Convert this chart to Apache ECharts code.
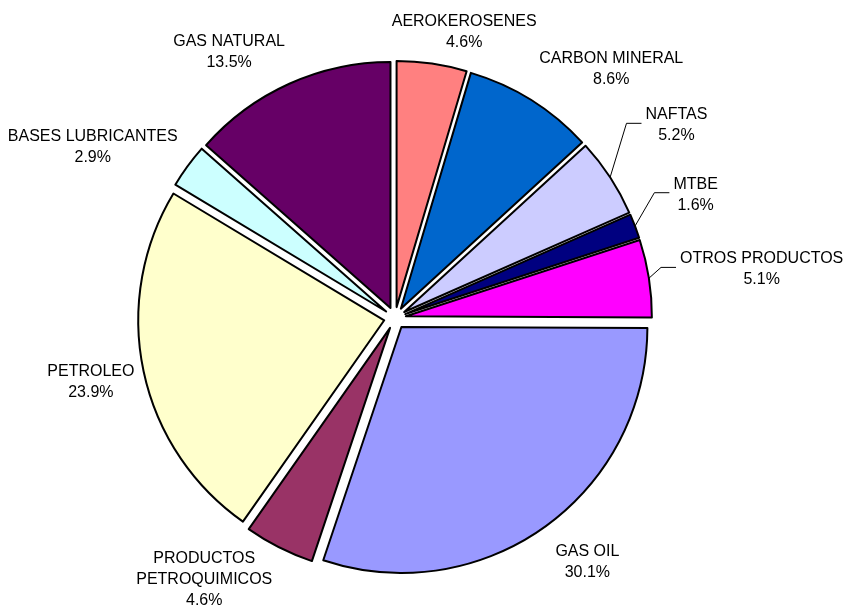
<!DOCTYPE html>
<html>
<head>
<meta charset="utf-8">
<title>Productos</title>
<script src="https://cdn.jsdelivr.net/npm/echarts@6/dist/echarts.min.js"></script>
<style>
  html, body { margin: 0; padding: 0; background: #fff; }
  #main { width: 845px; height: 608px; }
</style>
</head>
<body>
<div id="main"></div>
<script>
// data, clockwise from 12 o'clock
var names = ['AEROKEROSENES', 'CARBON MINERAL', 'NAFTAS', 'MTBE', 'OTROS PRODUCTOS',
  'GAS OIL', 'PRODUCTOS PETROQUIMICOS', 'PETROLEO', 'BASES LUBRICANTES', 'GAS NATURAL']
var shares = [4.6, 8.6, 5.2, 1.6, 5.1, 30.1, 4.6, 23.9, 2.9, 13.5]
var colors = ['#FF8080', '#0066CC', '#CCCCFF', '#000080', '#FF00FF',
  '#9999FF', '#993366', '#FFFFCC', '#CCFFFF', '#660066']

// pie geometry
var CX = 395
var CY = 318
var R = 246
var EXPLODE = 11
var LABEL_GAP = 12

// labels that get a leader line
var leaders = ['NAFTAS', 'MTBE', 'OTROS PRODUCTOS']
// small per label nudges on top of the radial placement (px)
var labelNudge = {
  'AEROKEROSENES': [26, 11],
  'CARBON MINERAL': [44, 27],
  'NAFTAS': [25, -25],
  'MTBE': [23, -17],
  'OTROS PRODUCTOS': [18, 6],
  'GAS OIL': [15, -4],
  'PRODUCTOS PETROQUIMICOS': [-43, -31],
  'PETROLEO': [5, -1],
  'BASES LUBRICANTES': [-20, 36],
  'GAS NATURAL': [-38, 18]
}

var total = shares.reduce(function (a, b) { return a + b }, 0)

function midAngle(i) {
  var before = 0
  for (var k = 0; k < i; k++) before += shares[k]
  return (before + shares[i] / 2) / total * Math.PI * 2
}

var chart = echarts.init(document.getElementById('main'))

var sliceData = names.map(function (n, i) {
  return {
    name: n,
    value: shares[i],
    selected: true,
    itemStyle: { color: colors[i] }
  }
})

var labelData = names.map(function (n, i) {
  return {
    name: n,
    value: shares[i],
    labelLine: { show: leaders.indexOf(n) >= 0 }
  }
})

chart.setOption({
  backgroundColor: '#fff',
  animation: false,
  series: [
    {
      type: 'pie',
      center: [CX, CY],
      radius: R,
      startAngle: 90,
      clockwise: true,
      selectedMode: 'multiple',
      selectedOffset: EXPLODE,
      silent: true,
      itemStyle: { borderColor: '#000', borderWidth: 2 },
      label: { show: false },
      labelLine: { show: false },
      emphasis: { disabled: true },
      data: sliceData
    },
    {
      // transparent copy only used to carry the labels
      type: 'pie',
      center: [CX, CY],
      radius: R,
      startAngle: 90,
      clockwise: true,
      silent: true,
      avoidLabelOverlap: false,
      itemStyle: { color: 'rgba(0,0,0,0)', borderWidth: 0 },
      emphasis: { disabled: true },
      label: {
        show: true,
        position: 'outside',
        color: '#000',
        fontFamily: 'Liberation Sans, Arial, sans-serif',
        fontSize: 16,
        lineHeight: 21,
        formatter: function (p) {
          var n = p.name.length > 20 ? p.name.replace(' ', '\n') : p.name
          return n + '\n' + p.value.toFixed(1) + '%'
        }
      },
      labelLine: {
        show: false,
        lineStyle: { color: '#000', width: 1 }
      },
      labelLayout: function (p) {
        var i = p.dataIndex
        var a = midAngle(i)
        var ux = Math.sin(a)
        var uy = -Math.cos(a)
        var w = p.labelRect.width
        var h = p.labelRect.height
        var edge = R + EXPLODE
        var k = LABEL_GAP + Math.abs(ux) * w / 2 + Math.abs(uy) * h / 2
        var nudge = labelNudge[names[i]] || [0, 0]
        var x = CX + ux * (edge + k) + nudge[0]
        var y = CY + uy * (edge + k) + nudge[1]
        var out = { x: x, y: y, align: 'center', verticalAlign: 'middle' }
        if (leaders.indexOf(names[i]) >= 0) {
          var start = [CX + ux * edge, CY + uy * edge]
          var end = [x - w / 2 - 4, y - 2]
          out.labelLinePoints = [start, [end[0] - 15, end[1]], end]
        }
        return out
      },
      data: labelData
    }
  ]
})
</script>
</body>
</html>
